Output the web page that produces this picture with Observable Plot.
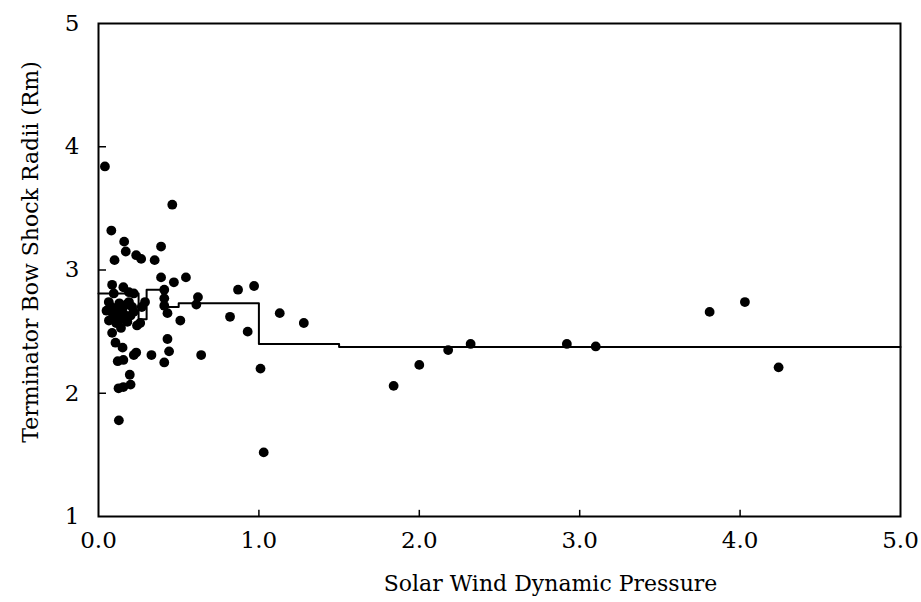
<!DOCTYPE html>
<html>
<head>
<meta charset="utf-8">
<script src="https://cdn.jsdelivr.net/npm/d3@7"></script>
<script src="https://cdn.jsdelivr.net/npm/@observablehq/plot@0.6"></script>
<style>
  html, body { margin: 0; padding: 0; background: white; }
</style>
</head>
<body>
<div id="chart"></div>
<script>
const xTicks = [0, 1, 2, 3, 4, 5];
const yTicks = [1, 2, 3, 4, 5];
const xLabel = "Solar Wind Dynamic Pressure";
const yLabel = "Terminator Bow Shock Radii (Rm)";

// Observations: solar wind pressure vs bow shock radius
const pressure = [
  0.04, 0.46, 0.08, 0.16, 0.17, 0.39, 0.235, 0.266, 0.10, 0.35,
  0.39, 0.47, 0.545, 0.085, 0.155, 0.19, 0.22, 0.41, 0.095, 0.41,
  0.62, 0.61, 0.87, 0.97, 0.064, 0.29, 0.27, 0.41, 0.05, 0.43,
  0.82, 1.13, 1.28, 0.51, 0.93, 0.085, 0.43, 0.106, 0.15, 0.44,
  0.33, 0.22, 0.235, 0.64, 0.12, 0.155, 0.41, 1.01, 0.195, 0.125,
  0.155, 0.20, 0.127, 1.03, 0.24, 0.26,
  0.08, 0.10, 0.12, 0.13, 0.14, 0.15, 0.16, 0.175, 0.18, 0.11,
  0.20, 0.21, 0.22, 0.19, 0.09, 0.14, 0.065,
  1.84, 2.00, 2.18, 2.32, 2.92, 3.10, 3.81, 4.03, 4.24
];
const radius = [
  3.84, 3.53, 3.32, 3.23, 3.15, 3.19, 3.12, 3.09, 3.08, 3.08,
  2.94, 2.90, 2.94, 2.88, 2.86, 2.82, 2.81, 2.84, 2.81, 2.77,
  2.78, 2.72, 2.84, 2.87, 2.74, 2.74, 2.70, 2.71, 2.67, 2.65,
  2.62, 2.65, 2.57, 2.59, 2.50, 2.49, 2.44, 2.41, 2.37, 2.34,
  2.31, 2.31, 2.33, 2.31, 2.26, 2.27, 2.25, 2.20, 2.15, 2.04,
  2.05, 2.07, 1.78, 1.52, 2.55, 2.57,
  2.70, 2.62, 2.67, 2.73, 2.60, 2.69, 2.64, 2.72, 2.58, 2.57,
  2.63, 2.70, 2.66, 2.74, 2.64, 2.53, 2.59,
  2.06, 2.23, 2.35, 2.40, 2.40, 2.38, 2.66, 2.74, 2.21
];

// Binned mean (step line)
const binStart = [0, 0.25, 0.30, 0.40, 0.50, 1.0, 1.5, 5.0];
const binMean  = [2.81, 2.60, 2.84, 2.70, 2.73, 2.40, 2.375, 2.375];

const points = pressure.map((p, i) => ({x: p, y: radius[i]}));
const steps = binStart.map((b, i) => ({x: b, y: binMean[i]}));

const font = "'DejaVu Serif', 'Liberation Serif', serif";

const chart = Plot.plot({
  width: 921,
  height: 602,
  marginLeft: 98,
  marginRight: 21,
  marginTop: 23,
  marginBottom: 86,
  style: {fontFamily: font, fontSize: "22px", background: "white", color: "black"},
  x: {domain: [0, 5]},
  y: {domain: [1, 5]},
  marks: [
    Plot.frame({stroke: "black", strokeWidth: 2}),
    Plot.ruleX(xTicks.slice(1, -1), {x: d => d, y1: 1, y2: 1.05, stroke: "black", strokeWidth: 1.5}),
    Plot.ruleY(yTicks.slice(1, -1), {y: d => d, x1: 0, x2: 0.05, stroke: "black", strokeWidth: 1.5}),
    Plot.axisX({ticks: xTicks, tickSize: 0, tickPadding: 15, tickFormat: d => d.toFixed(1),
      label: null, fontSize: 23}),
    Plot.axisY({ticks: yTicks, tickSize: 0, tickPadding: 19, tickFormat: d => String(d),
      label: null, fontSize: 23}),
    Plot.text([xLabel], {frameAnchor: "bottom", dx: 51, dy: 67, text: d => d,
      textAnchor: "middle", lineAnchor: "middle", fontSize: 22, fill: "black"}),
    Plot.text([yLabel], {frameAnchor: "left", rotate: -90, dx: -68, dy: -18, text: d => d,
      textAnchor: "middle", lineAnchor: "middle", fontSize: 22, fill: "black"}),
    Plot.line(steps, {x: "x", y: "y", curve: "step-after", stroke: "black", strokeWidth: 2}),
    Plot.dot(points, {x: "x", y: "y", r: 4.9, fill: "black", stroke: "none"})
  ]
});
document.getElementById("chart").appendChild(chart);
</script>
</body>
</html>
